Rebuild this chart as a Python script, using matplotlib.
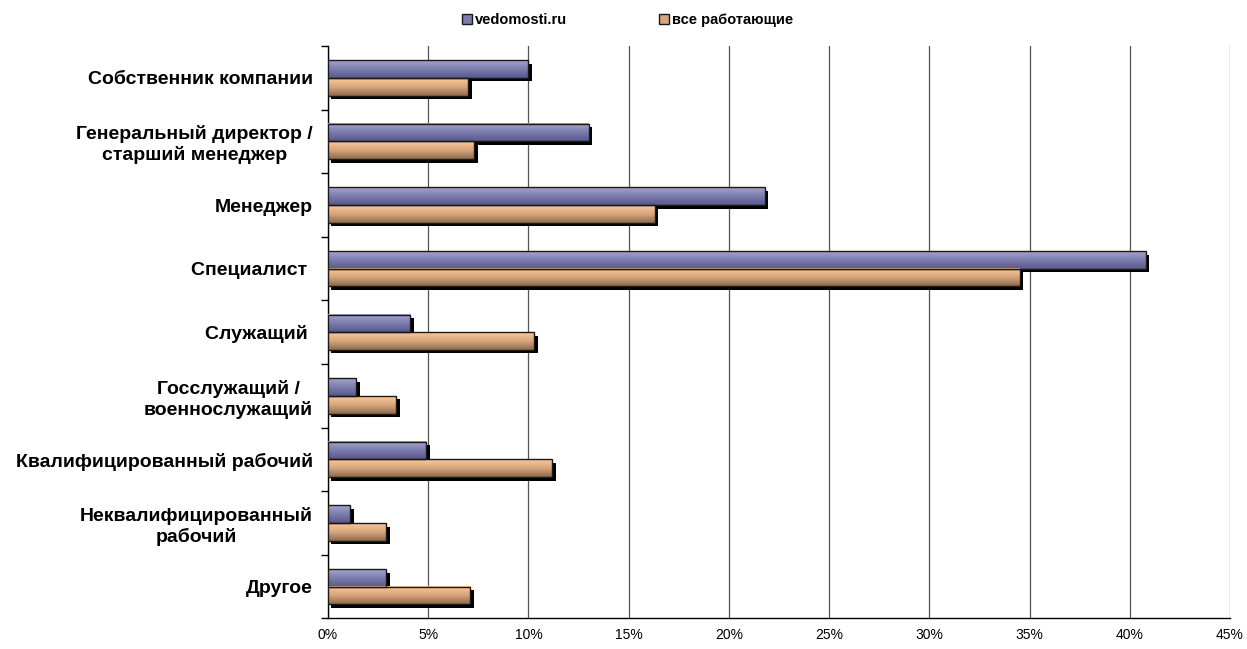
import numpy as np
import matplotlib
matplotlib.use('Agg')
import matplotlib.pyplot as plt
import matplotlib.transforms as mtransforms
from matplotlib.colors import LinearSegmentedColormap
from matplotlib.patches import Rectangle

# data (percent)
categories = ['Собственник компании',
              'Генеральный директор /\nстарший менеджер',
              'Менеджер',
              'Специалист ',
              'Служащий ',
              'Госслужащий /\nвоеннослужащий',
              'Квалифицированный рабочий',
              'Неквалифицированный\nрабочий',
              'Другое']
vedomosti = [10.0, 13.0, 21.8, 40.8, 4.1, 1.4, 4.9, 1.1, 2.9]
all_workers = [7.0, 7.3, 16.3, 34.5, 10.3, 3.4, 11.2, 2.9, 7.1]
series_names = ['vedomosti.ru', 'все работающие']
xticks = [0, 5, 10, 15, 20, 25, 30, 35, 40, 45]

plt.rcParams['font.family'] = ['Liberation Sans', 'DejaVu Sans']

fig, ax = plt.subplots(figsize=(12.47, 6.49), dpi=100)
fig.subplots_adjust(left=0.263, right=0.9864, top=0.929, bottom=0.047)

# light at top, dark at bottom (like the old Excel gradient fill)
blue_cmap = LinearSegmentedColormap.from_list('blue', ['#a6a6ce', '#7c7cae', '#58588c'])
orange_cmap = LinearSegmentedColormap.from_list('orange', ['#fac99a', '#d8a67c', '#8c6a4c'])
grad = np.linspace(0, 1, 64).reshape(-1, 1)

y = np.arange(len(categories))
h = 0.278
shadow = mtransforms.ScaledTranslation(3.5 / 100, -3.5 / 100, fig.dpi_scale_trans)

for vals, offset, cmap in [(vedomosti, -h / 2, blue_cmap), (all_workers, h / 2, orange_cmap)]:
    bars = ax.barh(y + offset, vals, height=h, facecolor='none',
                   edgecolor='#1a1a1a', linewidth=1, zorder=4)
    for b in bars:
        x0, y0, w, hh = b.get_x(), b.get_y(), b.get_width(), b.get_height()
        ax.add_patch(Rectangle((x0, y0), w, hh, facecolor='black', edgecolor='none',
                               transform=ax.transData + shadow, zorder=2))
        ax.imshow(grad, cmap=cmap, extent=[x0, x0 + w, y0 + hh, y0],
                  aspect='auto', zorder=3, interpolation='bilinear')

ax.set_xlim(0, 45)
ax.set_ylim(len(categories) - 0.5, -0.5)

ax.set_xticks(xticks)
ax.set_xticklabels([f'{v}%' for v in xticks], fontsize=10)
ax.tick_params(axis='x', length=0, pad=7)
ax.set_axisbelow(True)
ax.xaxis.grid(True, color='#555555', linewidth=0.9)

ax.set_yticks(np.arange(-0.5, len(categories), 1))
ax.set_yticklabels([])
ax.tick_params(axis='y', which='major', length=5, width=1, direction='out')
ax.set_yticks(y, minor=True)
ax.set_yticklabels(categories, minor=True, fontsize=14, fontweight='bold',
                   multialignment='center')
ax.tick_params(axis='y', which='minor', length=0, pad=11)

for s in ['top', 'right']:
    ax.spines[s].set_visible(False)
for s in ['left', 'bottom']:
    ax.spines[s].set_color('black')
    ax.spines[s].set_linewidth(1)

handles = [Rectangle((0, 0), 1, 1, facecolor='#7c7cae', edgecolor='#1a1a1a'),
           Rectangle((0, 0), 1, 1, facecolor='#d8a67c', edgecolor='#1a1a1a')]
fig.legend(handles, series_names, loc='upper center', bbox_to_anchor=(0.503, 1.0),
           ncol=2, frameon=False, prop={'weight': 'bold', 'size': 10.5},
           handlelength=0.7, handleheight=0.7, handletextpad=0.2, columnspacing=6.3)

fig.savefig('out.png', dpi=100)
